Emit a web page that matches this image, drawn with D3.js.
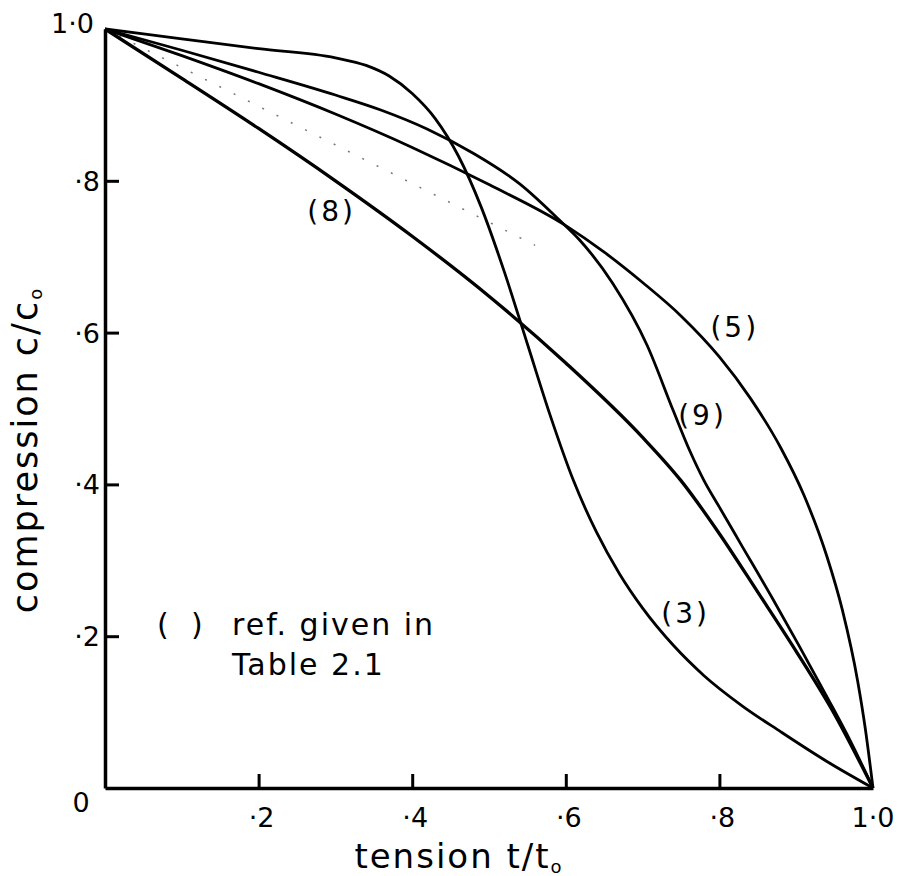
<!DOCTYPE html>
<html>
<head>
<meta charset="utf-8">
<script src="https://cdn.jsdelivr.net/npm/d3@7"></script>
<style>
  body { margin: 0; background: #fff; }
  text { font-family: "DejaVu Sans", sans-serif; fill: #000; }
</style>
</head>
<body>
<div id="view"></div>
<script>
var width = 898, height = 876;

// tick values and labels
var xTicks = [0.2, 0.4, 0.6, 0.8, 1.0];
var xTickLabels = ["·2", "·4", "·6", "·8", "1·0"];
var yTicks = [0.2, 0.4, 0.6, 0.8, 1.0];
var yTickLabels = ["·2", "·4", "·6", "·8", "1·0"];

// curves: [t/to, c/co]
var curve3 = [[0,1],[0.1,0.987],[0.2,0.974],[0.3,0.962],[0.34,0.952],[0.37,0.938],[0.40,0.915],
  [0.43,0.882],[0.46,0.833],[0.49,0.765],[0.52,0.680],[0.55,0.585],[0.58,0.49],[0.61,0.405],
  [0.64,0.337],[0.67,0.282],[0.70,0.237],[0.74,0.188],[0.78,0.148],[0.83,0.108],[0.88,0.074],
  [0.94,0.035],[1,0]];
var curve5 = [[0,1],[0.1,0.965],[0.2,0.928],[0.3,0.888],[0.4,0.844],[0.5,0.795],[0.6,0.741],
  [0.65,0.706],[0.7,0.666],[0.75,0.622],[0.8,0.568],[0.84,0.514],[0.88,0.448],[0.91,0.386],
  [0.94,0.305],[0.96,0.235],[0.98,0.141],[0.99,0.078],[1,0]];
var curve8 = [[0,1],[0.1,0.935],[0.2,0.869],[0.3,0.800],[0.4,0.727],[0.5,0.648],[0.6,0.560],
  [0.7,0.462],[0.75,0.405],[0.8,0.335],[0.85,0.258],[0.9,0.18],[0.95,0.097],[1,0]];
var curve9 = [[0,1],[0.1,0.972],[0.2,0.943],[0.3,0.913],[0.36,0.893],[0.42,0.868],[0.48,0.836],
  [0.54,0.796],[0.592,0.748],[0.618,0.722],[0.661,0.665],[0.706,0.583],[0.74,0.497],[0.762,0.443],
  [0.78,0.405],[0.80,0.37],[0.827,0.323],[0.869,0.25],[0.904,0.187],[0.939,0.122],[0.97,0.063],[1,0]];
// faint dotted trace left on the sheet
var trace = [[0,1],[0.56,0.715]];

var curveNames = ["(3)", "(5)", "(8)", "(9)"];
var labelAt = [[0.756,0.231],[0.82,0.607],[0.295,0.76],[0.778,0.492]];

var svg = d3.select("#view").append("svg")
  .attr("width", width)
  .attr("height", height);

var x = d3.scaleLinear().domain([0, 1]).range([105, 873]);
var y = d3.scaleLinear().domain([0, 1]).range([788, 29]);

// axes with inward ticks
svg.append("g")
  .attr("transform", "translate(0," + y(0) + ")")
  .call(d3.axisBottom(x).tickValues(xTicks.slice(0, 4)).tickSize(-14).tickSizeOuter(0).tickFormat(""));
svg.append("g")
  .attr("transform", "translate(" + x(0) + ",0)")
  .call(d3.axisLeft(y).tickValues(yTicks.slice(0, 4)).tickSize(-14).tickSizeOuter(0).tickFormat(""));
svg.selectAll(".domain").attr("stroke", "#000").attr("stroke-width", 3.5);
svg.selectAll(".tick line").attr("stroke", "#000").attr("stroke-width", 3);

svg.selectAll(".xlab")
  .data(xTicks).enter()
  .append("text")
  .attr("x", function(d, i) { return x(d) + (i < 4 ? 3 : 0); })
  .attr("y", 827)
  .attr("text-anchor", "middle")
  .style("font-size", "27px")
  .text(function(d, i) { return xTickLabels[i]; });

svg.selectAll(".ylab")
  .data(yTicks).enter()
  .append("text")
  .attr("x", function(d, i) { return i < 4 ? 100 : 94; })
  .attr("y", function(d, i) { return y(d) + (i < 4 ? 10 : 4); })
  .attr("text-anchor", "end")
  .style("font-size", "27px")
  .text(function(d, i) { return yTickLabels[i]; });

svg.append("text")
  .attr("x", 81).attr("y", 812)
  .attr("text-anchor", "middle")
  .style("font-size", "27px")
  .text("0");

// axis titles
var xt = svg.append("text")
  .attr("x", 459).attr("y", 868)
  .attr("text-anchor", "middle")
  .style("font-size", "34px")
  .style("letter-spacing", "2px")
  .text("tension   t/t");
xt.append("tspan").attr("dy", 5).style("font-size", "18px").text("o");

var yt = svg.append("text")
  .attr("transform", "translate(37,450) rotate(-90)")
  .attr("text-anchor", "middle")
  .style("font-size", "35px")
  .style("letter-spacing", "2px")
  .text("compression  c/c");
yt.append("tspan").attr("dy", 5).style("font-size", "18px").text("o");

// faint trace
var line = d3.line()
  .x(function(d) { return x(d[0]); })
  .y(function(d) { return y(d[1]); });
svg.append("path")
  .datum(trace)
  .attr("d", line)
  .attr("fill", "none")
  .attr("stroke", "#777")
  .attr("stroke-width", 1.5)
  .attr("stroke-dasharray", "2,14");

var smooth = d3.line()
  .x(function(d) { return x(d[0]); })
  .y(function(d) { return y(d[1]); })
  .curve(d3.curveMonotoneX);

var curves = [curve3, curve5, curve8, curve9];
svg.selectAll(".curve")
  .data(curves).enter()
  .append("path")
  .attr("class", "curve")
  .attr("d", smooth)
  .attr("fill", "none")
  .attr("stroke", "#000")
  .attr("stroke-width", function(d, i) { return i == 2 ? 3.3 : 2.8; })
  .attr("stroke-linejoin", "round");

svg.selectAll(".cname")
  .data(curveNames).enter()
  .append("text")
  .attr("x", function(d, i) { return x(labelAt[i][0]); })
  .attr("y", function(d, i) { return y(labelAt[i][1]) + 10; })
  .attr("text-anchor", "middle")
  .style("font-size", "28px")
  .style("letter-spacing", "3px")
  .text(function(d) { return d; });

// note
svg.append("text")
  .attr("x", 157).attr("y", 635)
  .style("font-size", "30px")
  .text("(");
svg.append("text")
  .attr("x", 191).attr("y", 635)
  .style("font-size", "30px")
  .text(")");
svg.append("text")
  .attr("x", 232).attr("y", 635)
  .style("font-size", "30px")
  .style("letter-spacing", "2px")
  .text("ref. given in");
svg.append("text")
  .attr("x", 232).attr("y", 675)
  .style("font-size", "30px")
  .style("letter-spacing", "2px")
  .text("Table 2.1");
</script>
</body>
</html>
